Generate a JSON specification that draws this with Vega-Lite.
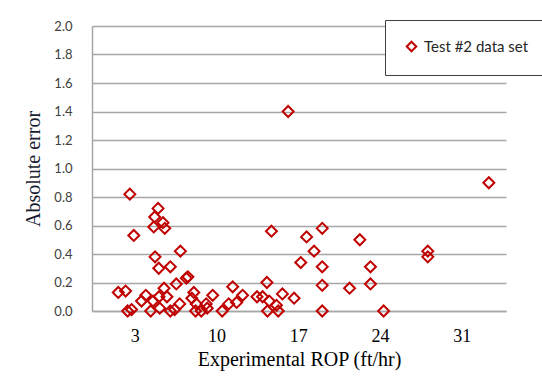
{
  "$schema": "https://vega.github.io/schema/vega-lite/v6.json",
  "width": 414,
  "height": 285,
  "autosize": "none",
  "padding": {"left": 92, "top": 26, "right": 36, "bottom": 71},
  "background": "white",
  "config": {"view": {"stroke": null}},
  "data": {
    "values": [
      {"rop": 1.59, "err": 0.13}, {"rop": 2.22, "err": 0.14}, {"rop": 2.39, "err": 0.0},
      {"rop": 2.73, "err": 0.01}, {"rop": 2.58, "err": 0.82}, {"rop": 2.92, "err": 0.53},
      {"rop": 3.58, "err": 0.07}, {"rop": 3.95, "err": 0.11}, {"rop": 4.37, "err": 0.0},
      {"rop": 4.57, "err": 0.07}, {"rop": 4.63, "err": 0.59}, {"rop": 4.71, "err": 0.66},
      {"rop": 5.0, "err": 0.72}, {"rop": 5.42, "err": 0.62}, {"rop": 5.57, "err": 0.58},
      {"rop": 4.74, "err": 0.38}, {"rop": 5.06, "err": 0.3}, {"rop": 6.05, "err": 0.31},
      {"rop": 6.91, "err": 0.42}, {"rop": 7.42, "err": 0.23}, {"rop": 7.55, "err": 0.24},
      {"rop": 6.56, "err": 0.19}, {"rop": 5.51, "err": 0.16}, {"rop": 5.08, "err": 0.1},
      {"rop": 5.14, "err": 0.02}, {"rop": 5.76, "err": 0.1}, {"rop": 6.05, "err": 0.0},
      {"rop": 6.42, "err": 0.01}, {"rop": 6.85, "err": 0.05}, {"rop": 8.06, "err": 0.13},
      {"rop": 7.89, "err": 0.09}, {"rop": 8.27, "err": 0.05}, {"rop": 8.21, "err": 0.0},
      {"rop": 8.7, "err": 0.0}, {"rop": 9.21, "err": 0.02}, {"rop": 9.12, "err": 0.05},
      {"rop": 9.68, "err": 0.11}, {"rop": 10.49, "err": 0.0}, {"rop": 11.05, "err": 0.05},
      {"rop": 11.39, "err": 0.17}, {"rop": 11.73, "err": 0.06}, {"rop": 12.24, "err": 0.11},
      {"rop": 13.47, "err": 0.1}, {"rop": 13.95, "err": 0.1}, {"rop": 14.32, "err": 0.2},
      {"rop": 14.71, "err": 0.56}, {"rop": 14.37, "err": 0.0}, {"rop": 14.52, "err": 0.07},
      {"rop": 15.14, "err": 0.04}, {"rop": 15.29, "err": 0.0}, {"rop": 15.65, "err": 0.12},
      {"rop": 16.65, "err": 0.09}, {"rop": 16.14, "err": 1.4}, {"rop": 17.22, "err": 0.34},
      {"rop": 17.72, "err": 0.52}, {"rop": 18.36, "err": 0.42}, {"rop": 19.06, "err": 0.58},
      {"rop": 19.06, "err": 0.31}, {"rop": 19.06, "err": 0.18}, {"rop": 19.06, "err": 0.0},
      {"rop": 21.4, "err": 0.16}, {"rop": 22.28, "err": 0.5}, {"rop": 23.19, "err": 0.31},
      {"rop": 23.19, "err": 0.19}, {"rop": 24.32, "err": 0.0}, {"rop": 28.1, "err": 0.42},
      {"rop": 28.1, "err": 0.38}, {"rop": 33.33, "err": 0.9}
    ]
  },
  "mark": {"type": "point", "shape": "diamond", "filled": false, "strokeWidth": 2, "size": 120, "opacity": 1, "clip": false},
  "encoding": {
    "x": {
      "field": "rop", "type": "quantitative",
      "scale": {"domain": [-0.66, 34.8], "nice": false, "zero": false},
      "axis": {
        "title": "Experimental ROP (ft/hr)",
        "values": [3, 10, 17, 24, 31],
        "grid": false, "ticks": false,
        "domain": true, "domainColor": "#a6a6a6", "domainWidth": 1.5,
        "labelFont": "Liberation Serif", "labelFontSize": 18, "labelColor": "#000000",
        "labelPadding": 16,
        "titleFont": "Liberation Serif", "titleFontSize": 20, "titleFontWeight": "normal",
        "titleColor": "#000000", "titlePadding": 4
      }
    },
    "y": {
      "field": "err", "type": "quantitative",
      "scale": {"domain": [0, 2], "nice": false},
      "axis": {
        "title": "Absolute error",
        "values": [0, 0.2, 0.4, 0.6, 0.8, 1.0, 1.2, 1.4, 1.6, 1.8, 2.0],
        "format": ".1f",
        "grid": true, "gridColor": "#a6a6a6", "gridWidth": 1.5,
        "ticks": false,
        "domain": true, "domainColor": "#a6a6a6", "domainWidth": 1.5,
        "labelFont": "Lato", "labelFontSize": 13, "labelColor": "#404040",
        "labelPadding": 20,
        "titleFont": "Liberation Serif", "titleFontSize": 20, "titleFontWeight": "normal",
        "titleColor": "#1a1a2e", "titlePadding": 10
      }
    },
    "color": {
      "datum": "Test #2 data set", "type": "nominal",
      "scale": {"range": ["#c00000"]},
      "legend": {
        "title": null,
        "orient": "none", "legendX": 293, "legendY": -6,
        "strokeColor": "#404040", "fillColor": "white", "padding": 19,
        "labelFont": "Lato", "labelFontSize": 15, "labelColor": "#262626",
        "labelOffset": 5,
        "symbolType": "diamond", "symbolSize": 90, "symbolStrokeWidth": 2,
        "symbolFillColor": "white", "symbolOpacity": 1
      }
    }
  }
}
